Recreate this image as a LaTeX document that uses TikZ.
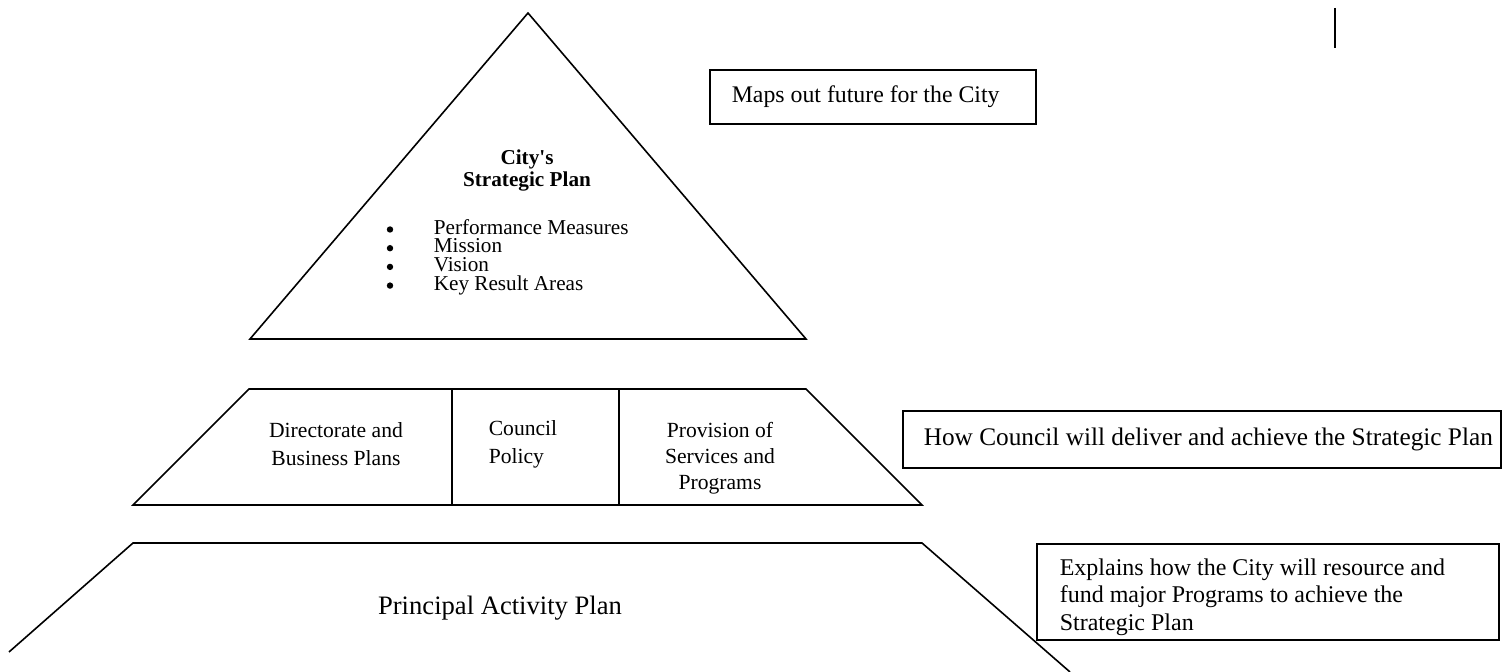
\documentclass[tikz,border=0pt]{standalone}
\usepackage{fontspec}
\setmainfont{Liberation Serif}
\usetikzlibrary{positioning}

\tikzset{
    notebox/.style={draw, rectangle, line width=0.8pt, inner ysep=0pt, anchor=north west},
    tiertext/.style={align=center, font=\fontsize{10.8}{13.5}\selectfont},
}

\begin{document}
\begin{tikzpicture}[x=0.5pt,y=-0.5pt,line width=0.8pt]

    \useasboundingbox (0,0) rectangle (1505,672);

    % top tier: the strategic plan
    \coordinate (apex) at (528,13);
    \coordinate (tribl) at (250,339);
    \coordinate (tribr) at (806,339);
    \draw (tribl) -- (apex) -- (tribr) -- cycle;

    \node[align=center, font=\bfseries\fontsize{10.6}{11}\selectfont] (stratname) at (527,170) {City\textquotesingle s\\Strategic Plan};
    \node[align=left, anchor=west, inner sep=0pt, font=\fontsize{10.6}{9.35}\selectfont] (stratlist) at (433,257)
        {Performance Measures\\Mission\\Vision\\Key Result Areas};
    \foreach \row in {0,...,3}
        \fill (390,{229.5+18.7*\row}) circle[radius=1.6pt];

    % middle tier
    \coordinate (midtl) at (249,389);
    \coordinate (midtr) at (806,389);
    \coordinate (midbr) at (922,505);
    \coordinate (midbl) at (133,505);
    \draw (midbl) -- (midtl) -- (midtr) -- (midbr) -- cycle;
    \coordinate (divat) at (452,389);
    \coordinate (divab) at (452,505);
    \coordinate (divbt) at (619,389);
    \coordinate (divbb) at (619,505);
    \draw (divat) -- (divab);
    \draw (divbt) -- (divbb);

    \node[tiertext, font=\fontsize{10.8}{14}\selectfont] (directorate) at (336,444) {Directorate and\\Business Plans};
    \node[tiertext, align=left, anchor=west, inner xsep=0pt, font=\fontsize{10.8}{14}\selectfont] (policy) at (488,444) {Council\\Policy};
    \node[tiertext, font=\fontsize{10.8}{13}\selectfont] (provision) at (720,458) {Provision of\\Services and\\Programs};

    % bottom tier, runs off the page
    \coordinate (palow) at (9,652);
    \coordinate (patl) at (133,543);
    \coordinate (patr) at (922,543);
    \coordinate (pahigh) at (1070,672);
    \draw (palow) -- (patl) -- (patr) -- (pahigh);
    \node[font=\fontsize{13.3}{16}\selectfont] (activity) at (500,608) {Principal Activity Plan};

    % notes on the right
    \node[notebox, minimum width=163pt, minimum height=27pt, inner xsep=11pt,
        font=\fontsize{11.9}{14}\selectfont] (futurenote) at (709,69) {\makebox[141pt][l]{Maps out future for the City}};
    \node[notebox, minimum width=299pt, minimum height=28.5pt, inner xsep=10.5pt,
        font=\fontsize{12.65}{14}\selectfont] (delivernote) at (902,410) {\makebox[278pt][l]{How Council will deliver and achieve the Strategic Plan}};
    \node[notebox, minimum width=231pt, minimum height=48pt] (fundnote) at (1036,543) {};
    \node[anchor=north west, inner sep=0pt, align=left, font=\fontsize{12}{13.75}\selectfont] (fundtext)
        at ([xshift=11.5pt,yshift=-7.3pt]fundnote.north west)
        {Explains how the City will resource and\\fund major Programs to achieve the\\Strategic Plan};

    % stray mark at the top right
    \coordinate (markt) at (1335,8);
    \coordinate (markb) at (1335,48);
    \draw[line width=1.4pt] (markt) -- (markb);

\end{tikzpicture}
\end{document}
